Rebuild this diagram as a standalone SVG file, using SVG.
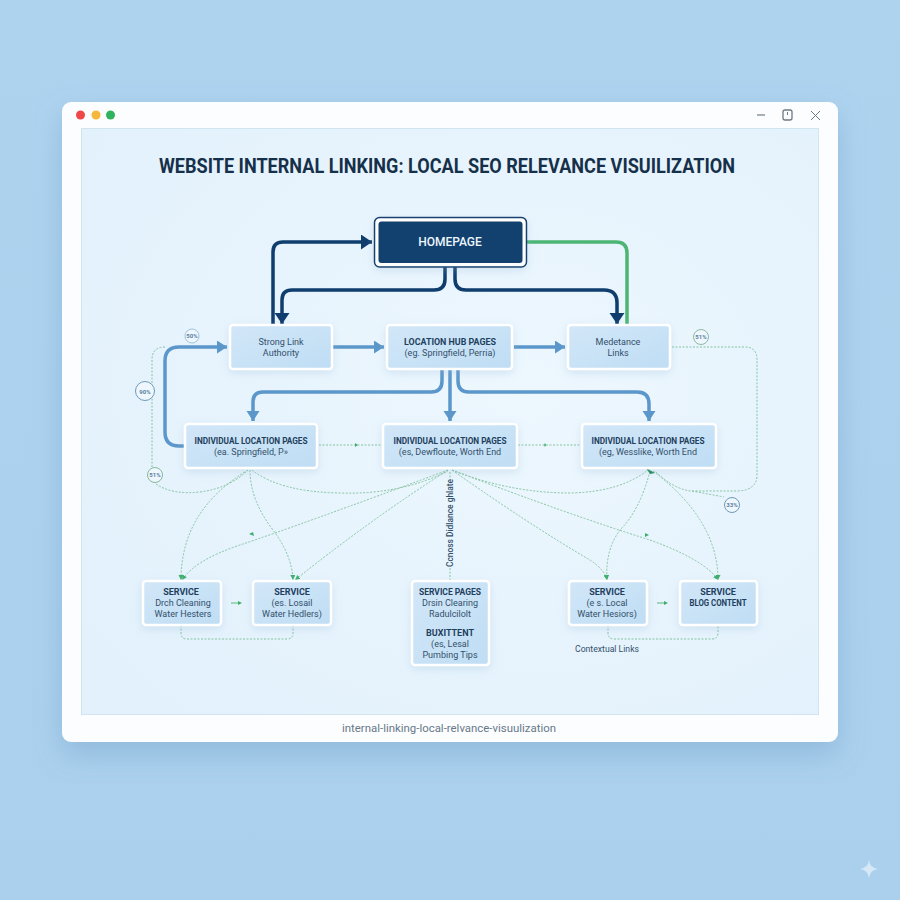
<svg xmlns="http://www.w3.org/2000/svg" width="900" height="900" viewBox="0 0 900 900">
<defs>
<linearGradient id="bg" x1="0" y1="0" x2="0" y2="1"><stop offset="0" stop-color="#aed3ef"/><stop offset="1" stop-color="#aad0ed"/></linearGradient>
<radialGradient id="panel" cx="0.6" cy="0.45" r="0.75"><stop offset="0" stop-color="#edf7fe"/><stop offset="1" stop-color="#e2f1fc"/></radialGradient>
<linearGradient id="nodefill" x1="0" y1="0" x2="1" y2="1"><stop offset="0" stop-color="#d2e7f8"/><stop offset="1" stop-color="#bfddf4"/></linearGradient>
<filter id="winshadow" x="-10%" y="-10%" width="120%" height="125%"><feDropShadow dx="0" dy="12" stdDeviation="14" flood-color="#5f8fb8" flood-opacity="0.35"/></filter>
<filter id="nodeshadow" x="-20%" y="-30%" width="140%" height="170%"><feDropShadow dx="0" dy="3" stdDeviation="4" flood-color="#8fb3d2" flood-opacity="0.28"/></filter>
<marker id="ahDark" markerUnits="userSpaceOnUse" markerWidth="14" markerHeight="16" refX="11" refY="7.500" orient="auto"><path d="M0 0L11 7.500L0 15Z" fill="#0f3d6e"/></marker>
<marker id="ahBlue" markerUnits="userSpaceOnUse" markerWidth="14" markerHeight="14" refX="10" refY="6.500" orient="auto"><path d="M0 0L10 6.500L0 13Z" fill="#5b97ca"/></marker>
<marker id="ahGreen" markerUnits="userSpaceOnUse" markerWidth="6" markerHeight="6" refX="5" refY="2.500" orient="auto"><path d="M0 0L5 2.500L0 5Z" fill="#3fae6b"/></marker>
<style>
.t{font-family:"Roboto","Liberation Sans",sans-serif;text-anchor:middle;fill:#33506b}
.b{font-weight:700;fill:#1f3f5e}
.s{font-size:9px}
.n{fill:url(#nodefill);stroke:#fff;stroke-width:2.500;filter:url(#nodeshadow)}
.dark{fill:none;stroke:#0f3d6e;stroke-width:3.500;stroke-linejoin:round}
.blue{fill:none;stroke:#5b97ca;stroke-width:3.500}
.dot{fill:none;stroke:#84c4a0;stroke-width:1;stroke-dasharray:2 1.500}
.badge{fill:#eef7fd;stroke-width:1}
.bt{font-family:"Roboto","Liberation Sans",sans-serif;font-size:6px;font-weight:700;text-anchor:middle;fill:#5b7f9d}
</style>
</defs>
<rect width="900" height="900" fill="url(#bg)"/>
<rect x="62" y="102" width="776" height="640" rx="9" fill="#fcfdfe" filter="url(#winshadow)"/>
<rect x="81.500" y="128.500" width="737" height="586" fill="url(#panel)" stroke="#d3e4f1"/>
<circle cx="80.500" cy="115" r="4.500" fill="#f04848"/><circle cx="96" cy="115" r="4.500" fill="#f5b83d"/><circle cx="110.500" cy="115" r="4.500" fill="#2fb35f"/>
<path d="M757 115H765" stroke="#8a949c" stroke-width="1.500"/>
<rect x="783" y="110" width="9" height="10" rx="2" fill="none" stroke="#6f7a83" stroke-width="1.300"/><path d="M787.500 112V115" stroke="#6f7a83"/>
<path d="M811 111L820 120M820 111L811 120" stroke="#6f7a83" stroke-width="1"/>
<text x="447" y="173" font-family="Roboto,'Liberation Sans',sans-serif" font-size="19.500" font-weight="700" text-anchor="middle" fill="#16304a" textLength="576" lengthAdjust="spacingAndGlyphs">WEBSITE INTERNAL LINKING: LOCAL SEO RELEVANCE VISUILIZATION</text>
<text x="449" y="732" font-family="Roboto,'Liberation Sans',sans-serif" font-size="11.500" text-anchor="middle" fill="#66798a" textLength="214" lengthAdjust="spacingAndGlyphs">internal-linking-local-relvance-visuulization</text>

<g id="connectors">
<path class="dark" d="M273 324V252Q273 242 283 242H372" marker-end="url(#ahDark)"/>
<path class="dark" d="M445 267V279Q445 290 434 290H292Q282 290 282 300V324" marker-end="url(#ahDark)"/>
<path class="dark" d="M455 267V279Q455 290 466 290H604Q617 290 617 303V324" marker-end="url(#ahDark)"/>
<path d="M527 242H616Q627 242 627 253V324" fill="none" stroke="#4cb574" stroke-width="3.500"/>
<path class="blue" d="M333 347H384" marker-end="url(#ahBlue)"/>
<path class="blue" d="M514 347H565" marker-end="url(#ahBlue)"/>
<path class="blue" d="M185 446H179Q165 446 165 432V361Q165 347 179 347H227" marker-end="url(#ahBlue)"/>
<path class="blue" d="M442 370V381Q442 392 431 392H263Q253 392 253 402V421" marker-end="url(#ahBlue)"/>
<path class="blue" d="M450 370V421" marker-end="url(#ahBlue)"/>
<path class="blue" d="M458 370V381Q458 392 469 392H637Q649 392 649 404V421" marker-end="url(#ahBlue)"/>
<path class="dot" d="M165 347Q152 347 152 360V467"/>
<path class="dot" d="M156 484Q172 495 200 492Q230 488 248 470"/>
<path class="dot" d="M672 347H745Q757 347 757 360V475Q757 490 738 491H690Q672 488 655 471"/>
<path class="dot" d="M692 491Q708 494 724 497"/>
<path class="dot" d="M319 445H382"/><path class="dot" d="M518 445H581"/>
<path d="M355 443L358 445L355 447Z" fill="#3fae6b"/><path d="M545 443L546 445L545 447L544 445Z" fill="#3fae6b"/>
<path class="dot" d="M248 470Q181 510 181 580" marker-end="url(#ahGreen)"/>
<path class="dot" d="M250 470Q250 500 273 530Q292 555 293 580" marker-end="url(#ahGreen)"/>
<path class="dot" d="M252 470Q280 492 340 493Q400 495 448 471"/>
<path class="dot" d="M448 470Q300 525 240 545Q195 560 182 580" marker-end="url(#ahGreen)"/>
<path class="dot" d="M448 470Q370 520 295 580" marker-end="url(#ahGreen)"/>
<path class="dot" d="M452 470Q530 525 590 560Q605 570 607 580" marker-end="url(#ahGreen)"/>
<path class="dot" d="M452 470Q510 493 570 493Q620 492 648 470"/>
<path class="dot" d="M452 470Q570 515 650 540Q705 560 718 580" marker-end="url(#ahGreen)"/>
<path class="dot" d="M650 471Q640 510 620 530Q605 550 607 580" marker-end="url(#ahGreen)"/>
<path class="dot" d="M653 471Q718 520 718 580" marker-end="url(#ahGreen)"/>
<path d="M646 468L655 473L650 474Z" fill="#1f8a50"/>
<path d="M645 533L649 535L645 537Z" fill="#3fae6b"/><path d="M253 532L249 534L254 536Z" fill="#3fae6b"/>
<path class="dot" d="M450 472V478M450 568V580"/>
<path class="dot" d="M181 625V633Q181 639 187 639H287Q293 639 293 633V625"/>
<path class="dot" d="M608 625V633Q608 639 614 639H712Q718 639 718 633V625"/>
<path d="M231 603H240" stroke="#5ab77e" stroke-width="1" fill="none"/><path d="M238 601L242 603L238 605Z" fill="#3fae6b"/>
<path d="M657 603H666" stroke="#5ab77e" stroke-width="1" fill="none"/><path d="M664 601L668 603L664 605Z" fill="#3fae6b"/>
</g>

<g id="homepage">
<rect x="374.500" y="217.500" width="152" height="49.500" rx="5" fill="#fff" stroke="#123f70" stroke-width="1.500" filter="url(#nodeshadow)"/>
<rect x="378.500" y="221.500" width="144" height="41.500" rx="3" fill="#12406f"/>
<text x="450" y="246" font-family="Roboto,'Liberation Sans',sans-serif" font-size="12" font-weight="500" text-anchor="middle" fill="#eef6fc">HOMEPAGE</text>
</g>
<g id="node-strong-link"><rect class="n" x="230" y="325" width="102" height="44" rx="3"/>
<text class="t s" x="281" y="345">Strong Link</text><text class="t s" x="281" y="356">Authority</text></g>
<g id="node-hub"><rect class="n" x="387" y="325" width="125" height="44" rx="3"/>
<text class="t b s" x="450" y="345" textLength="92" lengthAdjust="spacingAndGlyphs">LOCATION HUB PAGES</text><text class="t s" x="450" y="356">(eg. Springfield, Perria)</text></g>
<g id="node-medetance"><rect class="n" x="568" y="325" width="102" height="44" rx="3"/>
<text class="t s" x="618" y="345">Medetance</text><text class="t s" x="618" y="356">Links</text></g>
<g id="node-loc-1"><rect class="n" x="185" y="424" width="132" height="44" rx="3"/>
<text class="t b s" x="251" y="444" textLength="113" lengthAdjust="spacingAndGlyphs">INDIVIDUAL LOCATION PAGES</text><text class="t s" x="251" y="455">(ea. Springfield, P»</text></g>
<g id="node-loc-2"><rect class="n" x="383" y="424" width="134" height="44" rx="3"/>
<text class="t b s" x="450" y="444" textLength="113" lengthAdjust="spacingAndGlyphs">INDIVIDUAL LOCATION PAGES</text><text class="t s" x="450" y="455">(es, Dewfloute, Worth End</text></g>
<g id="node-loc-3"><rect class="n" x="582" y="424" width="134" height="44" rx="3"/>
<text class="t b s" x="648" y="444" textLength="113" lengthAdjust="spacingAndGlyphs">INDIVIDUAL LOCATION PAGES</text><text class="t s" x="648" y="455">(eg, Wesslike, Worth End</text></g>
<g id="node-svc-1"><rect class="n" x="143" y="581" width="78" height="44" rx="3"/>
<text class="t b s" x="181" y="595">SERVICE</text><text class="t s" x="183" y="606">Drch Cleaning</text><text class="t s" x="183" y="617">Water Hesters</text></g>
<g id="node-svc-2"><rect class="n" x="253" y="581" width="78" height="44" rx="3"/>
<text class="t b s" x="292" y="595">SERVICE</text><text class="t s" x="292" y="606">(es. Losail</text><text class="t s" x="292" y="617">Water Hedlers)</text></g>
<g id="node-svc-3"><rect class="n" x="412" y="581" width="77" height="84" rx="3"/>
<text class="t b s" x="450" y="595" textLength="62" lengthAdjust="spacingAndGlyphs">SERVICE PAGES</text><text class="t s" x="450" y="606">Drsin Clearing</text><text class="t s" x="450" y="617">Radulcilolt</text>
<text class="t b s" x="450" y="636">BUXITTENT</text><text class="t s" x="450" y="647">(es, Lesal</text><text class="t s" x="450" y="658">Pumbing Tips</text></g>
<g id="node-svc-4"><rect class="n" x="569" y="581" width="78" height="44" rx="3"/>
<text class="t b s" x="607" y="595">SERVICE</text><text class="t s" x="607" y="606">(e s. Local</text><text class="t s" x="607" y="617">Water Hesiors)</text></g>
<g id="node-blog"><rect class="n" x="680" y="581" width="77" height="44" rx="3"/>
<text class="t b s" x="718" y="595">SERVICE</text><text class="t b s" x="718" y="606" textLength="57" lengthAdjust="spacingAndGlyphs">BLOG CONTENT</text></g>

<text class="t s" x="607" y="652" textLength="64" lengthAdjust="spacingAndGlyphs">Contextual Links</text>
<text class="t" font-size="8.500" font-weight="500" transform="translate(453 523) rotate(-90)" textLength="88" lengthAdjust="spacingAndGlyphs">Ccnoss Didlance ghlate</text>

<g id="badge-1"><circle class="badge" stroke="#9dc3dd" cx="192" cy="336" r="7"/><text class="bt" x="192" y="338">50%</text></g>
<g id="badge-2"><circle class="badge" stroke="#6f9ab8" cx="145" cy="391" r="9.500"/><text class="bt" x="145" y="393.500">90%</text></g>
<g id="badge-3"><circle class="badge" stroke="#86b89c" cx="155" cy="475" r="7.500"/><text class="bt" x="155" y="477">51%</text></g>
<g id="badge-4"><circle class="badge" stroke="#8fb9a4" cx="701" cy="337" r="7.500"/><text class="bt" x="701" y="339">51%</text></g>
<g id="badge-5"><circle class="badge" stroke="#6f9ab8" cx="732" cy="505" r="7.500"/><text class="bt" x="732" y="507">33%</text></g>
<path d="M869 860Q870 868 878 869Q870 870 869 878Q868 870 860 869Q868 868 869 860Z" fill="#d6e7f5"/>
</svg>
